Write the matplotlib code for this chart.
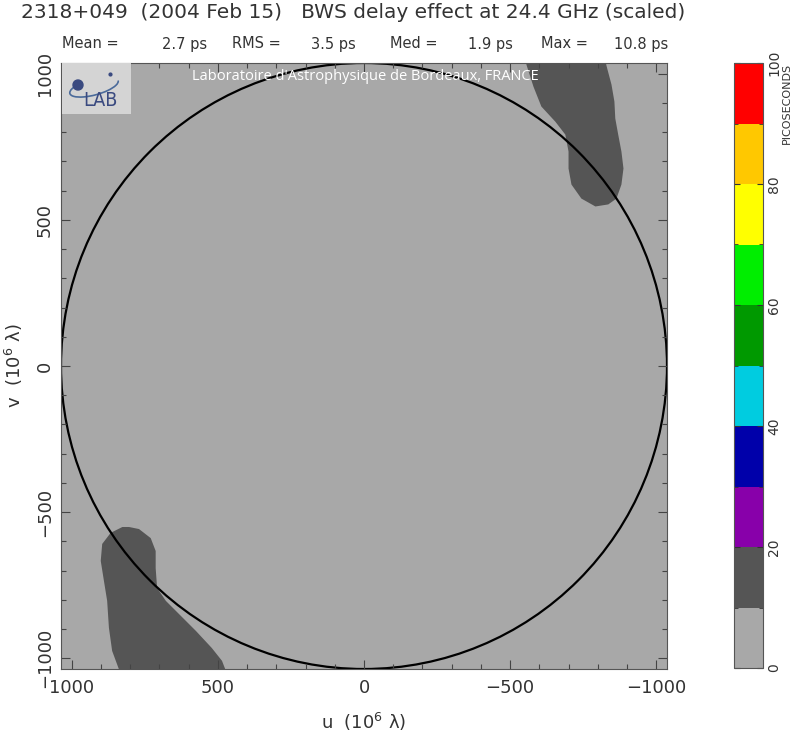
import numpy as np
import matplotlib.pyplot as plt
from matplotlib.colors import ListedColormap, BoundaryNorm
from matplotlib.patches import Circle, Polygon, Arc
from matplotlib.ticker import MultipleLocator

# delay scale (ps) and its colours
levels = np.arange(0, 101, 10)
level_colors = ['#a8a8a8', '#555555', '#8800aa', '#0000aa', '#00cce0',
                '#009900', '#00ee00', '#ffff00', '#ffc800', '#ff0000']
cbar_ticks = [0, 20, 40, 60, 80, 100]

# delay outside / inside the 10 ps contour
base_delay = 5
blob_delay = 15

# 10 ps contours, in (10^6 lambda)
blob_ne_u = [-545, -829, -829, -847, -857, -860, -870, -881, -888, -881, -864, -836,
             -792, -744, -710, -700, -700, -689, -655, -607, -580, -556]
blob_ne_v = [1100, 1100, 1031, 963, 905, 847, 792, 734, 676, 621, 573, 553,
             546, 573, 621, 676, 734, 792, 836, 888, 956, 1031]
blob_sw_u = [827, 867, 896, 901, 890, 879, 873, 862, 838, 838, 474, 474,
             486, 521, 575, 633, 678, 708, 713, 713, 730, 770, 804]
blob_sw_v = [-551, -571, -609, -667, -736, -804, -896, -975, -1040, -1100, -1100, -1040,
             -1009, -965, -907, -849, -804, -760, -692, -633, -589, -558, -551]

uv_limit = 1037
horizon_radius = 1037

stats_labels = ['Mean =', 'RMS =', 'Med =', 'Max =']
stats_values = [2.7, 3.5, 1.9, 10.8]

title = '2318+049  (2004 Feb 15)   BWS delay effect at 24.4 GHz (scaled)'
text_color = '#333333'

cmap = ListedColormap(level_colors)
norm = BoundaryNorm(levels, cmap.N)

fig = plt.figure(figsize=(7.92, 7.35), dpi=100)
W, H = 792.0, 735.0

ax = fig.add_axes([61 / W, 1 - 669 / H, 606 / W, 606 / H])
ax.set_facecolor(cmap(norm(base_delay)))
ax.add_patch(Polygon(np.column_stack([blob_ne_u, blob_ne_v]), closed=True,
                     facecolor=cmap(norm(blob_delay)), edgecolor='none'))
ax.add_patch(Polygon(np.column_stack([blob_sw_u, blob_sw_v]), closed=True,
                     facecolor=cmap(norm(blob_delay)), edgecolor='none'))
ax.add_patch(Circle((0, 0), horizon_radius, fill=False, edgecolor='black', lw=1.6))

ax.set_xlim(uv_limit, -uv_limit)
ax.set_ylim(-uv_limit, uv_limit)
ax.xaxis.set_major_locator(MultipleLocator(500))
ax.yaxis.set_major_locator(MultipleLocator(500))
ax.xaxis.set_minor_locator(MultipleLocator(100))
ax.yaxis.set_minor_locator(MultipleLocator(100))
ax.tick_params(which='both', direction='in', top=True, right=True, color='#444444')
ax.tick_params(which='major', length=6.5, width=0.8, labelsize=13, labelcolor=text_color)
ax.tick_params(which='minor', length=3.6, width=0.8)
ax.tick_params(axis='x', pad=7)
ax.tick_params(axis='y', pad=5, labelrotation=90)
for lab in ax.get_yticklabels():
    lab.set_va('center')
for sp in ax.spines.values():
    sp.set_color('#555555')
    sp.set_linewidth(0.8)

ax.set_xlabel('u  (10$^{6}$ λ)', fontsize=13, color=text_color, labelpad=10)
ax.set_ylabel('v  (10$^{6}$ λ)', fontsize=13, color=text_color, labelpad=8)

# logo box and lab banner
logo = fig.add_axes([62 / W, 1 - 114 / H, 69 / W, 51 / H])
logo.set_facecolor('#d4d4d4')
logo.set_xlim(0, 69)
logo.set_ylim(0, 51)
logo.set_xticks([])
logo.set_yticks([])
for sp in logo.spines.values():
    sp.set_visible(False)
logo.add_patch(Arc((32, 27), 50, 16, angle=15, theta1=150, theta2=360,
                   color='#4a6a9a', lw=1.2))
logo.add_patch(Circle((16, 29), 5, color='#3a4a80'))
logo.plot([48], [40], 'o', ms=2, color='#3a4a80')
logo.text(38, 13, 'LAB', fontsize=14, color='#3a4a80', ha='center', va='center',
          family='DejaVu Sans', fontstretch='condensed')

fig.text(192 / W, 1 - 77 / H, "Laboratoire d'Astrophysique de Bordeaux, FRANCE",
         fontsize=10.5, color='white', family='Open Sans', va='center', ha='left')

# title and statistics
fig.text(353 / W, 1 - 13 / H, title, fontsize=14.5, color=text_color,
         ha='center', va='center')
label_x = [62, 232, 390, 541]
value_x = [162, 311, 468, 614]
for lab, val, lx, vx in zip(stats_labels, stats_values, label_x, value_x):
    fig.text(lx / W, 1 - 44 / H, lab, fontsize=10.5, color=text_color, va='center')
    fig.text(vx / W, 1 - 44 / H, f'{val} ps', fontsize=10.5, color=text_color, va='center')

# colour bar
cax = fig.add_axes([734 / W, 1 - 668 / H, 29 / W, 605 / H])
sm = plt.cm.ScalarMappable(cmap=cmap, norm=norm)
cb = fig.colorbar(sm, cax=cax, ticks=cbar_ticks)
cb.outline.set_edgecolor('#555555')
cb.outline.set_linewidth(0.8)
cax.yaxis.set_minor_locator(MultipleLocator(10))
cax.tick_params(which='both', direction='in', left=True, right=True, color='#333333')
cax.tick_params(which='major', length=4, labelsize=10, labelcolor=text_color,
                pad=3, labelrotation=90)
cax.tick_params(which='minor', length=3)
for lab in cax.get_yticklabels():
    lab.set_va('center')
fig.text(787 / W, 1 - 63 / H, 'PICOSECONDS', fontsize=8, color=text_color,
         rotation=90, ha='center', va='top')

fig.savefig('out.png', dpi=100)
